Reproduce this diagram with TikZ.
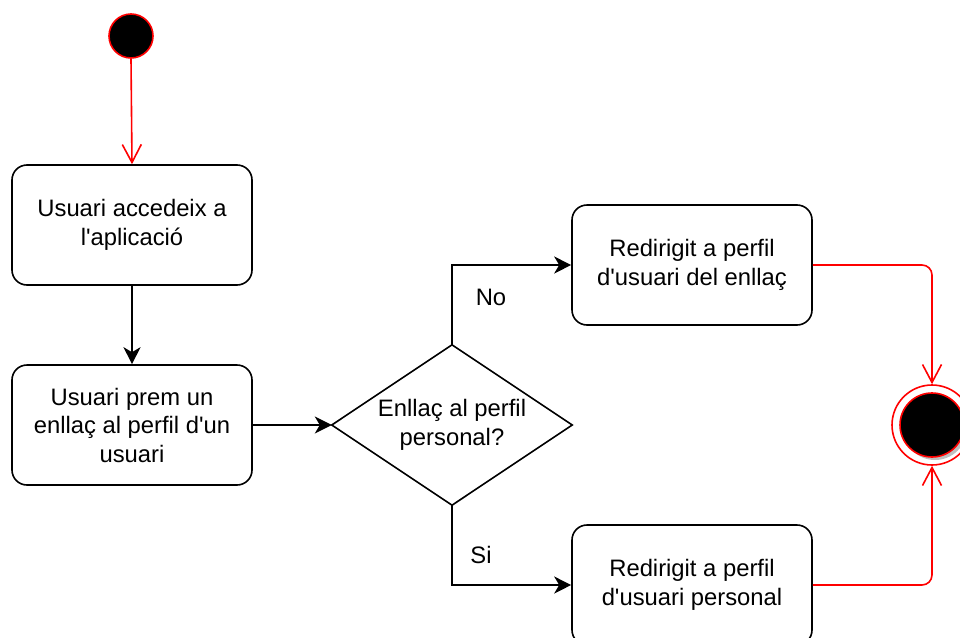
\documentclass[tikz,border=0pt]{standalone}
\usepackage{fontspec}
\setmainfont{Liberation Sans}[Ligatures=TeXOff]
\usetikzlibrary{arrows.meta}
\definecolor{flowred}{HTML}{FF0000}
\definecolor{shadowgray}{HTML}{C0C0C0}
\begin{document}
\begin{tikzpicture}[x=1pt,y=-1pt,
  every node/.style={font=\fontsize{23.8}{28.5}\selectfont},
  stepbox/.style={draw,line width=1.6pt,rounded corners=15pt,minimum width=240pt,minimum height=120pt,inner sep=0pt,align=center},
  flow/.style={line width=1.6pt,-{Stealth[length=17pt,width=17pt,inset=5pt]}},
  redflow/.style={draw=flowred,line width=1.6pt,-{Straight Barb[length=18pt,width=19pt]}},
  lbl/.style={inner sep=0pt}]
\useasboundingbox (0,0) rectangle (960,637);
\clip (0,0) rectangle (960,637);

% initial state
\node[circle,draw=flowred,fill=black,line width=1.6pt,minimum size=44pt,inner sep=0pt] (start) at (131,36) {};

% activity boxes
\node[stepbox] (access) at (132,225) {Usuari accedeix a\\l'aplicació};
\node[stepbox] (click) at (132,425) {Usuari prem un\\enllaç al perfil d'un\\usuari};
\node[stepbox] (other) at (692,265) {Redirigit a perfil\\d'usuari del enllaç};
\node[stepbox] (own) at (692,585) {Redirigit a perfil\\d'usuari personal};

% decision
\node[minimum width=240pt,minimum height=160pt,inner sep=0pt,align=center] (dec) at (452,425) {Enllaç al perfil\\personal?};
\draw[line width=1.6pt,line join=miter] (dec.north) -- (dec.east) -- (dec.south) -- (dec.west) -- cycle;

% final state
\node[circle,draw=flowred,fill=white,line width=1.6pt,minimum size=80pt,inner sep=0pt] (final) at (932,425) {};
\fill[shadowgray] (935,428) circle[radius=32pt];
\node[circle,draw=flowred,fill=black,line width=1.6pt,minimum size=64pt,inner sep=0pt] (finalcore) at (932,425) {};

% branch labels
\node[lbl] (no) at (491,297) {No};
\node[lbl] (si) at (481,555) {Si};

% connectors
\draw[redflow] (start.south) -- (access.north);
\draw[flow] (access.south) -- (click.north);
\draw[flow] (click.east) -- (dec.west);
\draw[flow] (dec.north) |- (other.west);
\draw[flow] (dec.south) |- (own.west);
\draw[redflow,rounded corners=10pt] (other.east) -| (final.north);
\draw[redflow,rounded corners=10pt] (own.east) -| (final.south);
\end{tikzpicture}
\end{document}
